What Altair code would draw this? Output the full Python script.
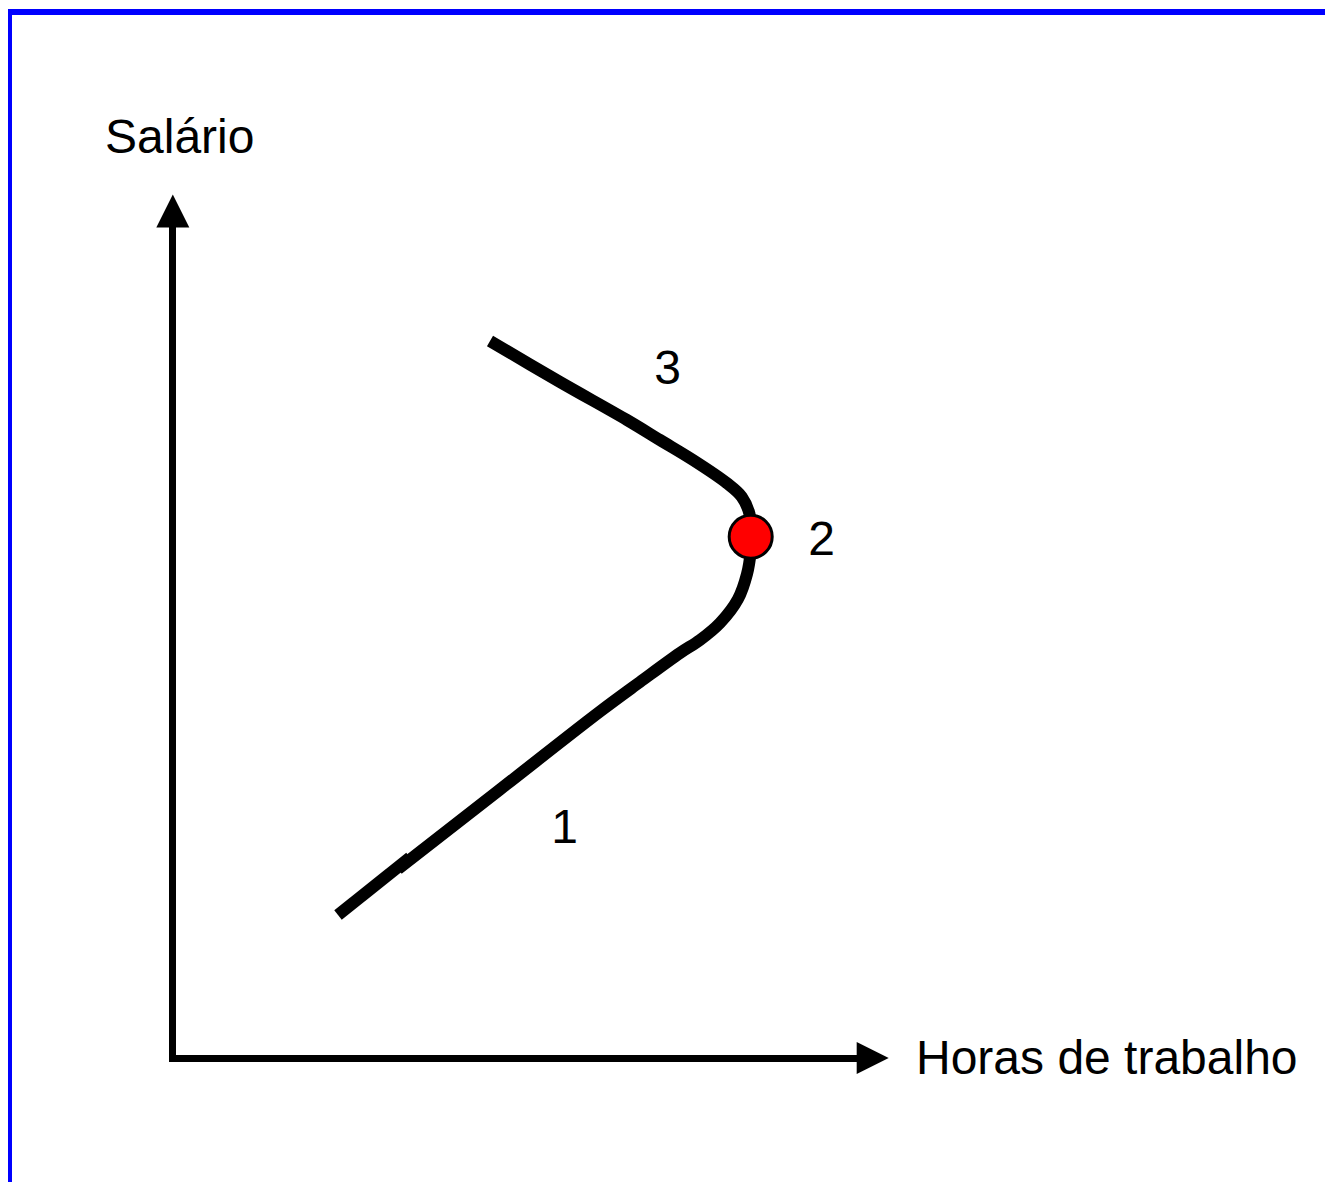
import altair as alt
import pandas as pd

# Diagram coordinates: hours (x) and wage (y), origin at the axes corner (pixel-like units)
# Main curve (backward-bending labour supply), drawn as two pieces that meet near the bottom
curve_h = [165.5, 237.5]
curve_w = [143.5, 201.0]
curve2_h = [225.5, 327.5, 427.5, 467.5, 507.5, 527.5, 547.5, 565.5, 574.5, 578.0, 578.5,
            577.0, 569.2, 554.2, 520.5, 487.5, 454.5, 387.5, 317.5]
curve2_w = [189.5, 269.0, 347.0, 376.5, 405.5, 418.5, 435.5, 459.5, 484.5, 505.5, 521.5,
            544.5, 561.8, 575.5, 598.5, 618.5, 638.5, 676.5, 717.5]

# Point 2 (marker)
dot_h = [578.2]
dot_w = [521.8]

# Labels
num_labels = ["1", "2", "3"]
num_h = [392.0, 649.0, 495.0]
num_w = [215.5, 503.5, 674.5]

axis_labels = ["Salário", "Horas de trabalho"]
axis_lab_h = [-67.5, 743.5]
axis_lab_w = [905.5, -15.5]

# Axes
vaxis = {"h": [0.0], "w1": [-3.5], "w2": [846.5]}
haxis = {"w": [0.0], "h1": [-3.5], "h2": [687.5]}
arrow_up = {"h": [0.3], "w": [847.5]}
arrow_right = {"h": [700.2], "w": [0.5]}

W, H = 1317, 1174
XD = [-164.5, W - 164.5]
YD = [1058.5 - (8 + H), 1050.5]

xs = alt.Scale(domain=XD, nice=False, zero=False)
ys = alt.Scale(domain=YD, nice=False, zero=False)

def X(f):
    return alt.X(f, type="quantitative", scale=xs, axis=None)

def Y(f):
    return alt.Y(f, type="quantitative", scale=ys, axis=None)

# frame (blue)
top_df = pd.DataFrame({"w": [1046.5], "h1": [XD[0]], "h2": [XD[1]]})
left_df = pd.DataFrame({"h": [-162.5], "w1": [YD[0]], "w2": [1049.5]})
frame_top = alt.Chart(top_df).mark_rule(color="#0000ff", strokeWidth=6).encode(
    x=X("h1"), x2="h2", y=Y("w"))
frame_left = alt.Chart(left_df).mark_rule(color="#0000ff", strokeWidth=4).encode(
    x=X("h"), y=Y("w1"), y2="w2")

v_rule = alt.Chart(pd.DataFrame(vaxis)).mark_rule(color="black", strokeWidth=7).encode(
    x=X("h"), y=Y("w1"), y2="w2")
h_rule = alt.Chart(pd.DataFrame(haxis)).mark_rule(color="black", strokeWidth=7).encode(
    x=X("h1"), x2="h2", y=Y("w"))

up = alt.Chart(pd.DataFrame(arrow_up)).mark_point(
    shape="M0,-1L-1,1L1,1Z", filled=True, color="black", opacity=1, size=1089, strokeWidth=0
).encode(x=X("h"), y=Y("w"))
right = alt.Chart(pd.DataFrame(arrow_right)).mark_point(
    shape="M1,0L-1,-1L-1,1Z", filled=True, color="black", opacity=1, size=1024, strokeWidth=0
).encode(x=X("h"), y=Y("w"))

seg_rows = []
for i, (a, b) in enumerate(zip(curve_h, curve_w)):
    seg_rows.append({"seg": "a", "i": i, "h": a, "w": b})
for i, (a, b) in enumerate(zip(curve2_h, curve2_w)):
    seg_rows.append({"seg": "b", "i": i, "h": a, "w": b})
curve_df = pd.DataFrame(seg_rows)

curve = alt.Chart(curve_df).mark_line(
    color="black", strokeWidth=12, interpolate="catmull-rom", strokeCap="butt", strokeJoin="round"
).encode(x=X("h"), y=Y("w"), detail="seg:N", order="i:Q")

dot = alt.Chart(pd.DataFrame({"h": dot_h, "w": dot_w})).mark_circle(
    size=1850, color="#ff0000", opacity=1, stroke="black", strokeWidth=3
).encode(x=X("h"), y=Y("w"))

FONT = "Liberation Sans, Arial, Helvetica, sans-serif"
nums = alt.Chart(pd.DataFrame({"t": num_labels, "h": num_h, "w": num_w})).mark_text(
    fontSize=48, font=FONT, align="center", baseline="alphabetic", color="black"
).encode(x=X("h"), y=Y("w"), text="t:N")

labs = alt.Chart(pd.DataFrame({"t": axis_labels, "h": axis_lab_h, "w": axis_lab_w})).mark_text(
    fontSize=48, font=FONT, align="left", baseline="alphabetic", color="black"
).encode(x=X("h"), y=Y("w"), text="t:N")

chart = alt.layer(frame_top, frame_left, v_rule, h_rule, up, right, curve, dot, nums, labs).properties(
    width=W, height=H, padding=0, autosize=alt.AutoSizeParams(type="none"),
    background="white"
).configure_view(stroke=None)

chart.save("out.html", embed_options={"renderer": "svg", "actions": False})
